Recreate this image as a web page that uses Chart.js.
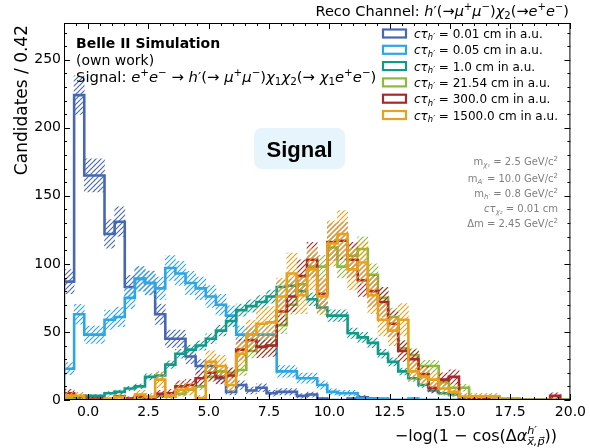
<!DOCTYPE html>
<html><head><meta charset="utf-8">
<script src="https://cdn.jsdelivr.net/npm/chart.js@4.4.1/dist/chart.umd.min.js"></script>
<style>html,body{margin:0;padding:0;background:#fff}canvas{display:block}</style>
</head><body>
<canvas id="c" width="590" height="448"></canvas>
<script>
// ---- data ----
const binStart = -1.0;
const binWidth = 0.42;
const xTickValues = [0, 2.5, 5, 7.5, 10, 12.5, 15, 17.5, 20];
const yTickValues = [0, 50, 100, 150, 200, 250];
const seriesLabels = ['0.01', '0.05', '1.0', '21.54', '300.0', '1500.0'];
const tau001 = [87,224,165,165,122,131,83,89,86,63, 45,45,32,25,25,16,6,11,7,9, 5,6,6,3,4,1,0,0,1,2, 1,0,0,0,0,0,0,0,0,0, 0,0,0,0,0,0,0,0,0,0];
const tau005 = [23,63,48,48,59,61,75,89,86,82, 97,93,86,82,76,70,62,48,48,48, 48,21,21,16,16,11,6,5,5,1, 1,1,0,0,1,0,0,0,0,0, 0,0,0,0,0,0,0,0,0,0];
const tau1 = [1,1,3,3,5,6,8.5,10,17,18, 26,34,37,40,45,51,58,66,69,72, 76,83,84,80,74,68,62,62,49,46, 42,34,28,21,16,11,7,5,4,1, 1,0,0,0,0,0,0,0,0,0];
const tau2154 = [1,0,0,0,0,0,0,1,0,3, 2.5,4.5,7.5,10,17,21,20,22,36,39, 40,55,70,85,98,98,112,98,106,111, 92,75,61,38,33,25,25,13,9,9, 2.5,2.5,2.5,1,1,0,0,0,0,0];
const tau300 = [5,2.5,1,1,0,2.5,1,2.5,1,4.5, 5,10,11,16,20,17,18,37,44,39, 40,65,76,91,103,78,116,117,103,88, 80,72,56,36,30,19,9,15,17,2, 1,1,0,0,0,0,0,0,3,0];
const tau1500 = [3,3,0,0,1,2,0,4,2.5,15, 2.5,7.5,8,1.5,28,25,11,34,48,56, 57,76,93,77,96,76,115,122,96,101, 77,59,51,59,21,17,15,8.5,6,2.5, 2.5,2.5,2.5,0,0,0,0,0,0,0];
// per-event weights (error = sqrt(weight * content))
const eventWeights = [0.9, 0.85, 0.3, 0.7, 1.6, 2.4];

// ---- style ----
const seriesValues = [tau001, tau005, tau1, tau2154, tau300, tau1500];
const colors = ['#4767b0', '#2ea6e3', '#13998a', '#8cba3e', '#a7292c', '#e6a21f'];
const FAM = '"DejaVu Sans"';

function hatch(color) {
  const c = document.createElement('canvas');
  c.width = 5; c.height = 5;
  const g = c.getContext('2d');
  g.strokeStyle = color; g.lineWidth = 1.1;
  g.beginPath();
  g.moveTo(0, 5); g.lineTo(5, 0);
  g.moveTo(-1, 1); g.lineTo(1, -1);
  g.moveTo(4, 6); g.lineTo(6, 4);
  g.stroke();
  return g.createPattern(c, 'repeat');
}

const nBins = tau001.length;
const edges = [];
for (let i = 0; i <= nBins; i++) edges.push(binStart + binWidth * i);

function stepPoints(vals) {
  const pts = [{x: edges[0], y: 0}];
  vals.forEach((v, i) => pts.push({x: edges[i], y: v}));
  pts.push({x: edges[nBins], y: vals[nBins - 1]});
  pts.push({x: edges[nBins], y: 0});
  return pts;
}
function bandPoints(vals, w) {
  const out = [];
  vals.forEach((v, i) => {
    if (v > 0) {
      const e = Math.sqrt(w * v);
      out.push({x: edges[i] + binWidth / 2, y: [Math.max(0, v - e), v + e]});
    }
  });
  return out;
}

const datasets = [];
seriesValues.forEach((vals, i) => {
  datasets.push({
    type: 'line', label: seriesLabels[i], data: stepPoints(vals),
    borderColor: colors[i], borderWidth: 2.6, stepped: 'before', pointRadius: 0,
    fill: false, tension: 0, borderJoinStyle: 'miter', order: 20 - 2 * i
  });
  datasets.push({
    type: 'bar', label: seriesLabels[i] + ' err', data: bandPoints(vals, eventWeights[i]),
    backgroundColor: hatch(colors[i]), borderWidth: 0, grouped: false,
    barPercentage: 1, categoryPercentage: 1, order: 21 - 2 * i
  });
});

// ---- rich text helper ----
function fnt(size, it, b) { return (it ? 'italic ' : '') + (b ? 'bold ' : '') + size + 'px ' + FAM; }
function runW(ctx, r, size) {
  if (r.stack) {
    ctx.font = fnt(size * 0.7, true);
    return Math.max(ctx.measureText(r.stack[0]).width, ctx.measureText(r.stack[1]).width);
  }
  const s = (r.sup || r.sub) ? size * 0.7 : size;
  ctx.font = fnt(s, r.it, r.b);
  return ctx.measureText(r.t).width;
}
function drawRuns(ctx, runs, x, y, size, align, color) {
  let w = 0;
  runs.forEach(r => w += runW(ctx, r, size));
  if (align === 'right') x -= w; else if (align === 'center') x -= w / 2;
  ctx.save();
  ctx.fillStyle = color || '#000';
  ctx.textAlign = 'left'; ctx.textBaseline = 'alphabetic';
  runs.forEach(r => {
    const rw = runW(ctx, r, size);
    if (r.stack) {
      ctx.font = fnt(size * 0.7, true);
      ctx.fillText(r.stack[0], x, y - size * 0.45);
      ctx.fillText(r.stack[1], x, y + size * 0.28);
    } else {
      const s = (r.sup || r.sub) ? size * 0.7 : size;
      ctx.font = fnt(s, r.it, r.b);
      const dy = r.sup ? -size * 0.4 : (r.sub ? size * 0.2 : 0);
      ctx.fillText(r.t, x, y + dy);
    }
    x += rw;
  });
  ctx.restore();
}
const N = t => ({t}), I = t => ({t, it: true}), SUP = t => ({t, sup: true}), SUB = t => ({t, sub: true, it: true}), SUBN = t => ({t, sub: true});

const decor = {
  id: 'decor',
  afterDraw(chart) {
    const ctx = chart.ctx, a = chart.chartArea, xs = chart.scales.x, ys = chart.scales.y;
    ctx.save();
    // frame
    ctx.strokeStyle = '#000'; ctx.lineWidth = 1;
    ctx.strokeRect(a.left + 0.5, a.top + 0.5, a.right - a.left - 1, a.bottom - a.top - 1);
    // ticks (inward, all sides)
    ctx.beginPath();
    for (let v = -1; v <= 20.001; v += 0.5) {
      const px = Math.round(xs.getPixelForValue(v)) + 0.5;
      const major = xTickValues.some(t => Math.abs(t - v) < 1e-6);
      const L = major ? 6 : 3;
      ctx.moveTo(px, a.bottom); ctx.lineTo(px, a.bottom - L);
      ctx.moveTo(px, a.top); ctx.lineTo(px, a.top + L);
    }
    for (let v = 0; v <= 277; v += 10) {
      const py = Math.round(ys.getPixelForValue(v)) + 0.5;
      const major = yTickValues.includes(v);
      const L = major ? 6 : 3;
      ctx.moveTo(a.left, py); ctx.lineTo(a.left + L, py);
      ctx.moveTo(a.right, py); ctx.lineTo(a.right - L, py);
    }
    ctx.stroke();

    // y title
    ctx.save();
    ctx.translate(27, 25); ctx.rotate(-Math.PI / 2);
    ctx.font = '17px ' + FAM; ctx.fillStyle = '#000';
    ctx.textAlign = 'right'; ctx.textBaseline = 'alphabetic';
    ctx.fillText('Candidates / 0.42', 0, 0);
    ctx.restore();

    // x title
    drawRuns(ctx, [N('\u2212log(1 \u2212 cos(\u0394'), I('\u03b1'), {stack: ['h\u2032', 'x\u20d7,p\u20d7']}, N('))')], 557, 441, 16, 'right');

    // top right channel
    drawRuns(ctx, [N('Reco Channel: '), I('h'), N('\u2032(\u2192'), I('\u03bc'), SUP('+'), I('\u03bc'), SUP('\u2212'), N(')'),
      I('\u03c7'), SUBN('2'), N('(\u2192'), I('e'), SUP('+'), I('e'), SUP('\u2212'), N(')')], 569, 16, 14.5, 'right');

    // Belle II labels
    ctx.fillStyle = '#000'; ctx.textAlign = 'left'; ctx.textBaseline = 'alphabetic';
    ctx.font = 'bold 14px ' + FAM;
    ctx.fillText('Belle II Simulation', 76, 48);
    ctx.font = '14px ' + FAM;
    ctx.fillText('(own work)', 76, 65);
    drawRuns(ctx, [N('Signal: '), I('e'), SUP('+'), I('e'), SUP('\u2212'), N(' \u2192 '), I('h'), N('\u2032(\u2192 '), I('\u03bc'), SUP('+'), I('\u03bc'), SUP('\u2212'), N(')'),
      I('\u03c7'), SUBN('1'), I('\u03c7'), SUBN('2'), N('(\u2192 '), I('\u03c7'), SUBN('1'), I('e'), SUP('+'), I('e'), SUP('\u2212'), N(')')], 76, 82, 14.8, 'left');

    // Signal box
    ctx.fillStyle = '#e6f4fb';
    ctx.beginPath(); ctx.roundRect(254, 128, 91, 41, 8); ctx.fill();
    ctx.fillStyle = '#000'; ctx.font = 'bold 22px "Liberation Sans"';
    ctx.textAlign = 'center'; ctx.fillText('Signal', 299.5, 157);

    // legend
    seriesLabels.forEach((lab, i) => {
      const cy = 33.5 + i * 16.3;
      ctx.strokeStyle = colors[i]; ctx.lineWidth = 2.2;
      ctx.strokeRect(383, cy - 4, 23, 8);
      drawRuns(ctx, [I('c\u03c4'), SUB('h\u2032'), N(' = ' + lab + ' cm in a.u.')], 414, cy + 4.5, 12, 'left');
    });

    // parameters
    const g = '#7f7f7f';
    drawRuns(ctx, [N('m'), SUB('\u03c7\u2081'), N(' = 2.5 GeV/c'), SUP('2')], 558, 165, 10, 'right', g);
    drawRuns(ctx, [N('m'), SUB('A\u2032'), N(' = 10.0 GeV/c'), SUP('2')], 558, 182, 10, 'right', g);
    drawRuns(ctx, [N('m'), SUB('h\u2032'), N(' = 0.8 GeV/c'), SUP('2')], 558, 197, 10, 'right', g);
    drawRuns(ctx, [I('c\u03c4'), SUB('\u03c7\u2082'), N(' = 0.01 cm')], 558, 212, 10, 'right', g);
    drawRuns(ctx, [N('\u0394m = 2.45 GeV/c'), SUP('2')], 558, 227, 10, 'right', g);
    ctx.restore();
  }
};

new Chart(document.getElementById('c'), {
  type: 'line',
  data: {datasets},
  options: {
    responsive: false, animation: false, devicePixelRatio: 1,
    layout: {padding: {left: 0, right: 19, top: 23, bottom: 0}},
    plugins: {legend: {display: false}, tooltip: {enabled: false}},
    scales: {
      x: {
        type: 'linear', min: binStart, max: binStart + binWidth * nBins, offset: false,
        afterBuildTicks: s => { s.ticks = xTickValues.map(v => ({value: v})); },
        afterFit: s => { s.height = 48; },
        grid: {display: false, drawTicks: false}, border: {display: false},
        ticks: {font: {family: 'DejaVu Sans', size: 14}, color: '#000', padding: 4, maxRotation: 0, autoSkip: false,
          callback: v => Number(v).toFixed(1)}
      },
      y: {
        type: 'linear', min: 0, max: 277,
        afterBuildTicks: s => { s.ticks = yTickValues.map(v => ({value: v})); },
        afterFit: s => { s.width = 64; },
        grid: {display: false, drawTicks: false}, border: {display: false},
        ticks: {font: {family: 'DejaVu Sans', size: 14}, color: '#000', padding: 3}
      }
    }
  },
  plugins: [decor]
});
</script>
</body></html>
